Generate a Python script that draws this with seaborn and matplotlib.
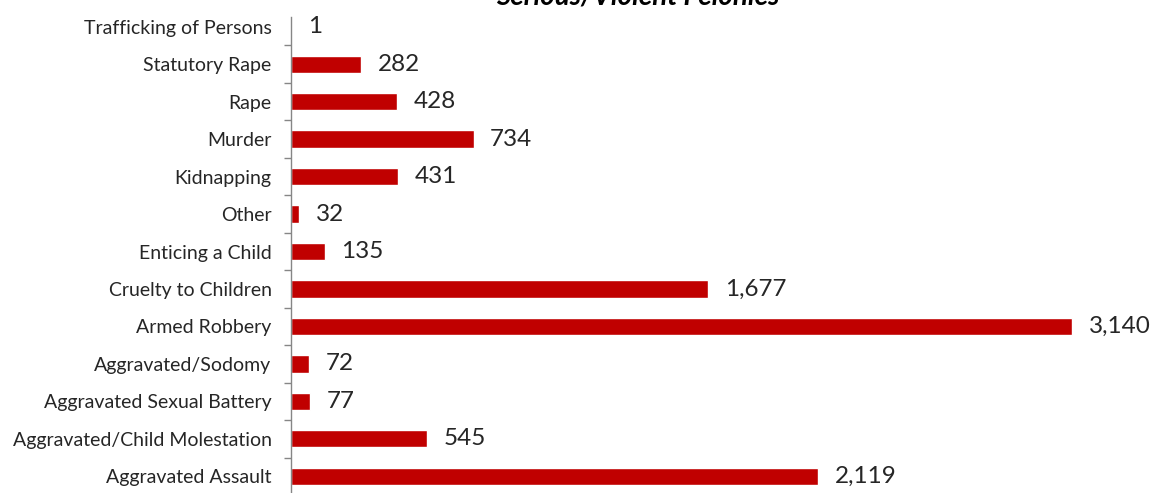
import matplotlib
matplotlib.use("Agg")
import matplotlib.pyplot as plt
import seaborn as sns
import pandas as pd
import numpy as np

categories = ["Trafficking of Persons", "Statutory Rape", "Rape", "Murder", "Kidnapping",
              "Other", "Enticing a Child", "Cruelty to Children", "Armed Robbery",
              "Aggravated/Sodomy", "Aggravated Sexual Battery",
              "Aggravated/Child Molestation", "Aggravated Assault"]
values = [1, 282, 428, 734, 431, 32, 135, 1677, 3140, 72, 77, 545, 2119]
title = "Serious/Violent Felonies"

sns.set_theme(style="white")
plt.rcParams['font.family'] = ['Lato', 'DejaVu Sans']

W, H = 1159, 493
fig = plt.figure(figsize=(W / 100, H / 100), dpi=100)
ax = fig.add_axes([291 / W, -2 / H, (W - 291) / W, (495 - 8) / H])

df = pd.DataFrame({"cat": categories, "val": values})
sns.barplot(data=df, y="cat", x="val", orient="h", color="#C00000", saturation=1,
            width=0.46, ax=ax)

ax.set_xlim(0, (W - 291) / 0.2487)
ax.set_ylim(len(categories) - 0.5, -0.5)
ax.set_xlabel("")
ax.set_ylabel("")
ax.set_xticks([])
for s in ["top", "right", "bottom"]:
    ax.spines[s].set_visible(False)
ax.spines["left"].set_color("#868686")
ax.spines["left"].set_linewidth(1)
ax.spines["left"].set_bounds(len(categories) - 0.5, -0.27)

ax.tick_params(axis="y", which="major", left=False, length=0, pad=14, labelsize=14,
               labelcolor="#262626")
ax.set_yticks(np.arange(0.5, len(categories) - 0.5, 1.0), minor=True)
ax.tick_params(axis="y", which="minor", left=True, length=5, width=1, color="#868686",
               direction="out")

for i, v in enumerate(values):
    ax.annotate(f"{v:,}", xy=(v, i), xytext=(12, 0), textcoords="offset points",
                ha="left", va="center", fontsize=17.5, color="#262626")

fig.text(638 / W, 1 - 4 / H, title, ha="center", va="baseline", fontsize=20,
         fontweight="bold", fontstyle="italic", color="#000000")

fig.savefig("out.png", dpi=100)
